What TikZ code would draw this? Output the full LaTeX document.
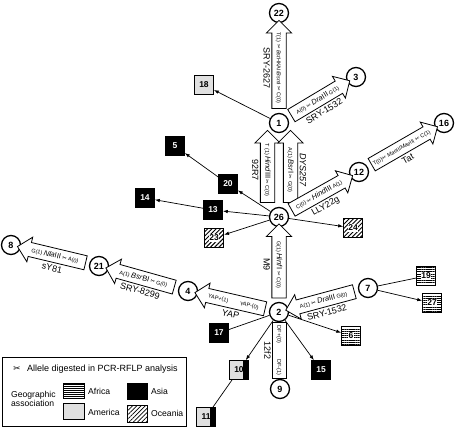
\documentclass[tikz,border=0pt]{standalone}
\usepackage{fontspec}
\setmainfont{Liberation Sans}
\newfontfamily\dejavu{DejaVu Sans}
\usetikzlibrary{shapes.arrows,patterns,patterns.meta,arrows.meta,calc}
\newcommand{\scis}{{\dejavu ✂}}
\newcommand{\enz}[2]{{\fontsize{7.5}{8}\selectfont\textit{#1}#2}}
\newcommand{\wn}[1]{{\setlength\fboxsep{0.6pt}\colorbox{white}{#1}}}
\begin{document}
\begin{tikzpicture}[x=1pt,y=-1pt,
  circ/.style={circle,draw,line width=1.3pt,minimum size=19pt,inner sep=0pt,fill=white,font=\bfseries\fontsize{9}{9}\selectfont},
  sq/.style={rectangle,draw,line width=0.6pt,minimum size=19pt,inner sep=0pt,font=\bfseries\fontsize{8.5}{9}\selectfont},
  asia/.style={sq,fill=black,text=white},
  amer/.style={sq,fill=black!12},
  afr/.style={sq,pattern={Lines[angle=0,distance=2.2pt,line width=0.9pt]}},
  oce/.style={sq,pattern={Lines[angle=45,distance=3pt,line width=1pt]}},
  mix/.style={sq,fill=black!12,path picture={\fill[black] ($(path picture bounding box.north east)+(-6,0)$) rectangle (path picture bounding box.south east);}},
  conn/.style={line width=0.7pt},
  arr/.style={conn,-{Latex[length=5pt,width=3.5pt]}},
  barrow/.style={single arrow,draw,fill=white,line width=0.8pt,single arrow head extend=5.5pt,inner xsep=1pt,inner ysep=2.5pt,text height=6.5pt,text depth=2pt,font=\fontsize{5.5}{6}\selectfont},
  dbox/.style={rectangle,draw,fill=white,line width=0.8pt,inner xsep=1pt,inner ysep=2.5pt,text height=6.5pt,text depth=2pt,font=\fontsize{5.5}{6}\selectfont},
  lab/.style={font=\fontsize{9}{9}\selectfont,inner sep=0.5pt},
  leg/.style={font=\fontsize{8.6}{9.5}\selectfont,inner sep=0pt},
]
\fill[white] (0,0) rectangle (456,428);
\useasboundingbox (0,0) rectangle (456,428);

% haplogroup circles
\node[circ] (n22) at (279,13) {22};
\node[circ] (n1) at (279,123) {1};
\node[circ] (n3) at (356,77) {3};
\node[circ] (n16) at (444,123) {16};
\node[circ] (n12) at (359,172) {12};
\node[circ] (n26) at (279,217) {26};
\node[circ] (n2) at (279,312) {2};
\node[circ] (n7) at (368,288) {7};
\node[circ] (n4) at (188,291) {4};
\node[circ] (n21) at (99,266) {21};
\node[circ] (n8) at (11,245) {8};
\node[circ] (n9) at (280,389) {9};

% squares
\node[amer] (s18) at (204,85) {18};
\node[asia] (s5) at (175,146) {5};
\node[asia] (s20) at (228,184) {20};
\node[asia] (s14) at (145,198) {14};
\node[asia] (s13) at (213,210) {13};
\node[oce] (s23) at (214,238) {\wn{23}};
\node[oce] (s24) at (353,228) {\wn{24}};
\node[afr] (s19) at (426,276) {\wn{19}};
\node[afr] (s27) at (432,303) {\wn{27}};
\node[afr] (s6) at (351,336) {\wn{6}};
\node[asia] (s17) at (219,333) {17};
\node[asia] (s15) at (321,370) {15};
\node[mix] (s10) at (239,370) {10\hspace{3pt}};
\node[mix] (s11) at (206,417) {11\hspace{3pt}};

% thin connectors
\draw[arr] (n1) -- (s18);
\draw[arr] (n26) -- (s20);
\draw[arr] (s20) -- (s5);
\draw[arr] (n26) -- (s13);
\draw[arr] (s13) -- (s14);
\draw[arr] (n26) -- (s23);
\draw[arr] (n26) -- (s24);
\draw[conn] (n7) -- (s19);
\draw[arr] (n7) -- (s27);
\draw[conn] (n2) -- (s17);
\draw[arr] (n2) -- (s6);
\draw[arr] (n2) -- (s15);
\draw[arr] (n2) -- (s10);
\draw[conn] (s10) -- (s11);

% block arrows
\path (n1) -- node[barrow,rotate=-90,shape border rotate=180,minimum height=88pt] {T(1) \scis\ \textit{Bst}HKAI/\textit{Bsm}I \scis\ C(0)}
  node[lab,rotate=-90,below=8.5pt] {SRY-2627} (n22);
\path (n26) -- node[barrow,xshift=-11.5pt,rotate=-90,shape border rotate=180,minimum height=72pt] {T (1) \enz{Hind}{III} \scis\ C(0)}
  node[lab,xshift=-11.5pt,rotate=-90,below=8.5pt] {92R7} (n1);
\path (n26) -- node[barrow,xshift=11.5pt,rotate=-90,shape border rotate=180,minimum height=72pt] {A(1) \enz{Bsr}{I} \scis\ G(0)}
  node[lab,xshift=11.5pt,rotate=-90,above=8.5pt] {\textit{DYS257}} (n1);
\path (n2) -- node[barrow,rotate=-90,shape border rotate=180,minimum height=74pt] {G(1) \enz{Hinf}{I} \scis\ C(0)}
  node[lab,rotate=-90,below=8.5pt] {M9} (n26);
\path (n1) -- node[barrow,sloped,minimum height=68pt] {A(0) \scis\ \enz{Dra}{III} G(1)}
  node[lab,sloped,below=9pt] {SRY-1532} (n3);
\path (n26) -- node[barrow,sloped,minimum height=70pt] {C(0) \scis\ \enz{Hind}{III} A(1)}
  node[lab,sloped,below=9pt] {LLY22g} (n12);
\path (n12) -- node[barrow,sloped,minimum height=76pt] {T(0)\scis\ \textit{Mae}II/\textit{Mae}III \scis\ C(1)}
  node[lab,sloped,below=9pt] {Tat} (n16);
\path (n2) -- node[barrow,sloped,shape border rotate=180,minimum height=72pt] {YAP+(1)\hspace{12pt}YAP-(0)}
  node[lab,sloped,below=9pt] {YAP} (n4);
\path (n4) -- node[barrow,sloped,shape border rotate=180,minimum height=71pt] {A(1) \enz{Bsr}{BI} \scis\ G(0)}
  node[lab,sloped,below=9pt] {SRY-8299} (n21);
\path (n21) -- node[barrow,sloped,shape border rotate=180,minimum height=70pt] {G(1) \enz{Nla}{III} \scis\ A(0)}
  node[lab,sloped,below=9pt] {sY81} (n8);
\path (n7) -- node[barrow,sloped,shape border rotate=180,minimum height=71pt] {A(1) \scis\ \enz{Dra}{III} G(0)}
  node[lab,sloped,below=9pt] {SRY-1532} (n2);
\path (n2) -- node[dbox,rotate=-90,minimum width=56pt] {DF+(0)\hspace{16pt}DF-(1)}
  node[lab,rotate=-90,below=8pt] {12f2} (n9);

% legend
\node[draw,line width=0.8pt,minimum width=184pt,minimum height=69pt,anchor=north west,inner sep=0pt] (legbox) at (2,357) {};
\node[leg] (lsc) at (17,369) {\scis};
\node[leg,anchor=west,font=\fontsize{9}{10}\selectfont] (ltx) at (27,369) {Allele digested in PCR-RFLP analysis};
\node[leg,anchor=west,align=left] (lgeo) at (11,399) {Geographic\\association};
\node[draw,line width=0.5pt,minimum width=21pt,minimum height=15pt,inner sep=0pt,pattern={Lines[angle=0,distance=2pt,line width=0.9pt]}] (kaf) at (73.5,390.5) {};
\node[leg,anchor=west] (taf) at (88,391) {Africa};
\node[draw,line width=0.5pt,minimum width=21pt,minimum height=16pt,inner sep=0pt,fill=black!12] (kam) at (73.5,411.5) {};
\node[leg,anchor=west] (tam) at (88,412) {America};
\node[draw,line width=0.5pt,minimum width=20pt,minimum height=16pt,inner sep=0pt,fill=black] (kas) at (137,391) {};
\node[leg,anchor=west] (tas) at (151,391) {Asia};
\node[draw,line width=0.5pt,minimum width=20pt,minimum height=17pt,inner sep=0pt,pattern={Lines[angle=45,distance=3pt,line width=0.7pt]}] (koc) at (137,413.5) {};
\node[leg,anchor=west] (toc) at (151,413) {Oceania};
\end{tikzpicture}
\end{document}
